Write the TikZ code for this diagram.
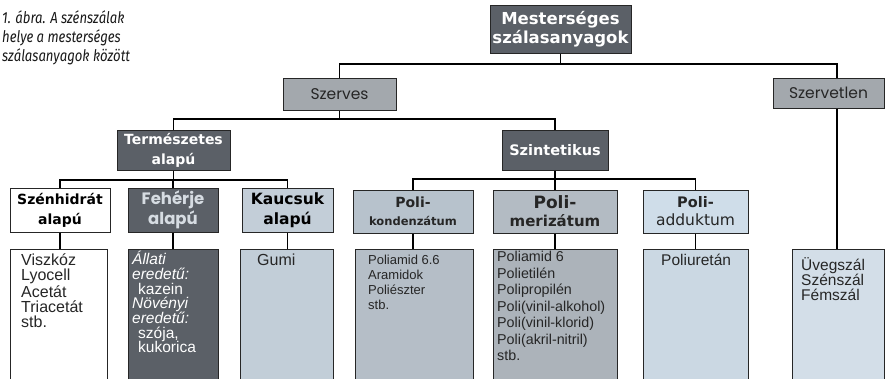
\documentclass[tikz,border=0pt]{standalone}
\usepackage{fontspec}
\setmainfont{Liberation Sans}
\newfontfamily\hfont{DejaVu Sans}
\newfontfamily\gfont{Poppins}
\newfontfamily\capfont[FakeStretch=0.82]{Fira Sans}
\definecolor{darkbox}{HTML}{5B6067}
\definecolor{midbox}{HTML}{A3A8AD}
\definecolor{kaucbox}{HTML}{C3CED8}
\definecolor{pkbox}{HTML}{B7C2CC}
\definecolor{pmbox}{HTML}{B3BBC3}
\definecolor{pabox}{HTML}{CFDDE9}
\definecolor{gumibox}{HTML}{C2CED8}
\definecolor{pklist}{HTML}{B5BEC7}
\definecolor{pmlist}{HTML}{ACB3BA}
\definecolor{palist}{HTML}{CBD8E3}
\definecolor{uvlist}{HTML}{D3DEE8}
\definecolor{lighttext}{HTML}{D6DCE2}
\newcommand{\fsz}[2]{\fontsize{#1}{#2}\selectfont}
\begin{document}
\begin{tikzpicture}[x=1pt,y=-1pt,
  box/.style={draw=black!85, line width=1pt, inner sep=0pt, align=center},
  conn/.style={line width=1.3pt, black},
  darkhead/.style={box, fill=darkbox, text=white, font=\hfont\bfseries\fsz{14}{20}},
  whitehead/.style={box, fill=white, text=black, font=\hfont\bfseries\fsz{14}{20}},
  midhead/.style={box, fill=midbox, text=black!85, font=\gfont\fsz{15.5}{18}},
  listbox/.style={draw=black!85, line width=1pt, anchor=north west, inner sep=0pt},
  listtext/.style={anchor=north west, inner sep=0pt, align=left, text=black!85, font=\fsz{15.5}{15}}
]
\useasboundingbox (0,0) rectangle (885,378);

% caption
\node[anchor=north west, inner sep=0pt, align=left, font=\capfont\itshape\fsz{16}{19}, text=black!90] (cap) at (2,10)
  {1. ábra. A szénszálak\\helye a mesterséges\\szálasanyagok között};

% level 1
\node[darkhead, minimum width=141, minimum height=48, font=\hfont\bfseries\fsz{16.5}{19.5}] (M) at (560.5,29) {Mesterséges\\szálasanyagok};
% level 2
\node[midhead, minimum width=113, minimum height=32] (szerves) at (339.5,94) {Szerves};
\node[midhead, minimum width=111, minimum height=30] (szervetlen) at (828.5,93) {Szervetlen};
% level 3
\node[darkhead, minimum width=113, minimum height=40] (term) at (173.5,150) {Természetes\\alapú};
\node[darkhead, minimum width=106, minimum height=40, font=\hfont\bfseries\fsz{14.5}{20}] (szint) at (555,150) {Szintetikus};
% level 4
\node[whitehead, minimum width=100, minimum height=44] (szenh) at (60,210) {Szénhidrát\\alapú};
\node[box, fill=darkbox, text=lighttext, font=\gfont\bfseries\fsz{16.5}{20}, minimum width=90, minimum height=44] (feh) at (173,210) {Fehérje\\alapú};
\node[whitehead, fill=kaucbox, minimum width=91, minimum height=44, font=\hfont\bfseries\fsz{15.5}{20}] (kauc) at (287.5,210) {Kaucsuk\\alapú};
\node[box, fill=pkbox, text=black!85, font=\hfont\bfseries\fsz{11.5}{18}, minimum width=120, minimum height=43] (pkond) at (413,211.5) {{\fsz{14}{18}Poli-}\\kondenzátum};
\node[box, fill=pmbox, text=black!85, font=\hfont\bfseries\fsz{15}{18}, minimum width=124, minimum height=43] (pmer) at (555,211.5) {{\fsz{17}{18}Poli-}\\merizátum};
\node[box, fill=pabox, text=black!85, font=\hfont\fsz{15.5}{18}, minimum width=105, minimum height=43] (padd) at (695.5,211.5) {{\bfseries\fsz{14.5}{18}Poli-}\\adduktum};

% lists
\node[listbox, fill=white, minimum width=97, minimum height=132] (l1) at (10,249) {};
\node[listbox, fill=darkbox, minimum width=90, minimum height=132] (l2) at (128,249) {};
\node[listbox, fill=gumibox, minimum width=93, minimum height=132] (l3) at (240,249) {};
\node[listbox, fill=pklist, minimum width=118, minimum height=132] (l4) at (355,249) {};
\node[listbox, fill=pmlist, minimum width=124, minimum height=132] (l5) at (493,249) {};
\node[listbox, fill=palist, minimum width=105, minimum height=132] (l6) at (643,249) {};
\node[listbox, fill=uvlist, minimum width=92, minimum height=132] (l7) at (792,249) {};

\node[listtext, font=\fsz{16}{15}] (t1) at ([shift={(11,5)}]l1.north west) {Viszkóz\\Lyocell\\Acetát\\Triacetát\\stb.};
\node[listtext, text=white, font=\fsz{15.5}{14.7}] (t2) at ([shift={(4,2)}]l2.north west) {\textit{Állati}\\\textit{eredetű:}\\\hspace*{6pt}kazein\\\textit{Növényi}\\\textit{eredetű:}\\\hspace*{6pt}szója,\\\hspace*{6pt}kukorica};
\node[listtext, font=\fsz{16}{15}] (t3) at ([shift={(17,5)}]l3.north west) {Gumi};
\node[listtext, font=\fsz{13}{15}] (t4) at ([shift={(13,6)}]l4.north west) {Poliamid 6.6\\Aramidok\\Poliészter\\stb.};
\node[listtext, font=\fsz{14.3}{16.5}] (t5) at ([shift={(4,2)}]l5.north west) {Poliamid 6\\Polietilén\\Polipropilén\\Poli(vinil-alkohol)\\Poli(vinil-klorid)\\Poli(akril-nitril)\\stb.};
\node[listtext] (t6) at ([shift={(18,5)}]l6.north west) {Poliuretán};
\node[listtext] (t7) at ([shift={(9,8)}]l7.north west) {Üvegszál\\Szénszál\\Fémszál};

% connectors
\coordinate (bus1) at (559,64);
\coordinate (bus2) at (0,119);
\coordinate (bus3) at (0,180);
\coordinate (bus4) at (0,179);
\coordinate (svtop) at ([xshift=8.5]szervetlen.north);
\coordinate (svbot) at ([xshift=8.5]szervetlen.south);
\draw[conn] (M.south) -- (M.south |- bus1);
\draw[conn] (szerves.north) |- (bus1 -| svtop) -- (svtop);
\draw[conn] (szerves.south) -- (szerves.south |- bus2);
\draw[conn] (term.north) |- (bus2 -| szint.north) -- (szint.north);
\draw[conn] (term.south) -- (term.south |- bus3);
\draw[conn] (szenh.north) |- (bus3 -| kauc.north) -- (kauc.north);
\draw[conn] (feh.north) -- (feh.north |- bus3);
\draw[conn] (szint.south) -- (szint.south |- bus4);
\draw[conn] (pkond.north) |- (bus4 -| padd.north) -- (padd.north);
\draw[conn] (pmer.north) -- (pmer.north |- bus4);
\draw[conn] (szenh.south) -- (szenh.south |- l1.north);
\draw[conn] (feh.south) -- (feh.south |- l2.north);
\draw[conn] (kauc.south) -- (kauc.south |- l3.north);
\draw[conn] (pkond.south) -- (pkond.south |- l4.north);
\draw[conn] (pmer.south) -- (pmer.south |- l5.north);
\draw[conn] (padd.south) -- (padd.south |- l6.north);
\draw[conn] (svbot) -- (svbot |- l7.north);
\end{tikzpicture}
\end{document}
